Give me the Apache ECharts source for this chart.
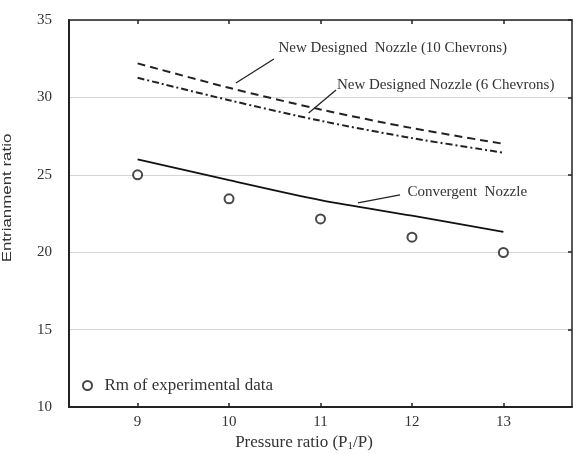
<!DOCTYPE html>
<html>
<head>
<meta charset="utf-8">
<script src="https://cdn.jsdelivr.net/npm/echarts@6/dist/echarts.min.js"></script>
<style>
    html, body { margin: 0; padding: 0; background: #fff; }
    #chart { width: 581px; height: 454px; }
</style>
</head>
<body>
<div id="chart"></div>
<script>
// pressure ratio P1/P
const pressureRatio = [9, 10, 11, 12, 13];
const xTicks = [9, 10, 11, 12, 13];

const chevron10 = [32.2, 30.62, 29.22, 28.02, 27.0];
const chevron6 = [31.27, 29.82, 28.49, 27.37, 26.43];
const convergent = [26.0, 24.66, 23.37, 22.36, 21.32];
const experimental = [25.0, 23.45, 22.15, 20.97, 19.98];

// annotation text anchor and leader line, in data units
const annotations = [
    { text: "New Designed  Nozzle (10 Chevrons)", at: [10.54, 33.19], from: [10.49, 32.48], to: [10.075, 30.93] },
    { text: "New Designed Nozzle (6 Chevrons)", at: [11.18, 30.8], from: [11.17, 30.48], to: [10.87, 28.99] },
    { text: "Convergent  Nozzle", at: [11.95, 23.89], from: [11.87, 23.7], to: [11.41, 23.18] }
];

const serif = "'Liberation Serif', 'Times New Roman', serif";
const textColor = "#333";

const pairs = values => pressureRatio.map((x, i) => [x, values[i]]);

const chart = echarts.init(document.getElementById("chart"));

const sideAxis = {
    type: "value",
    axisLine: { show: true, lineStyle: { color: "#222", width: 1.5 } },
    axisLabel: { show: false },
    splitLine: { show: false }
};

chart.setOption({
    animation: false,
    grid: { left: 69, top: 20, right: 9, bottom: 47, containLabel: false },
    xAxis: [{
        type: "value",
        position: "bottom",
        min: 8.25,
        max: 13.75,
        axisLine: { show: true, onZero: false, lineStyle: { color: "#222", width: 2 } },
        axisTick: { show: true, inside: true, length: 4, customValues: xTicks, lineStyle: { color: "#222", width: 1.5 } },
        axisLabel: { customValues: xTicks, margin: 8, fontFamily: serif, fontSize: 15, color: textColor },
        splitLine: { show: false }
    }, {
        ...sideAxis,
        position: "top",
        min: 8.25,
        max: 13.75,
        axisTick: { show: true, inside: true, length: 4, customValues: xTicks, lineStyle: { color: "#222", width: 1.5 } }
    }],
    yAxis: [{
        type: "value",
        position: "left",
        min: 10,
        max: 35,
        interval: 5,
        axisLine: { show: true, onZero: false, lineStyle: { color: "#222", width: 2 } },
        axisTick: { show: false },
        axisLabel: { margin: 17, fontFamily: serif, fontSize: 15, color: textColor },
        splitLine: { show: true, lineStyle: { color: "#d4d4d4", width: 1 } }
    }, {
        ...sideAxis,
        position: "right",
        min: 10,
        max: 35,
        interval: 5,
        axisTick: { show: true, inside: true, length: 4, lineStyle: { color: "#222", width: 1.5 } }
    }],
    legend: {
        data: ["Rm of experimental data"],
        left: 77,
        top: 372,
        itemWidth: 24,
        itemHeight: 9,
        textStyle: { fontFamily: serif, fontSize: 17, color: textColor }
    },
    series: [{
        name: "New Designed Nozzle (10 Chevrons)",
        type: "line",
        data: pairs(chevron10),
        smooth: 0.3,
        symbol: "none",
        lineStyle: { color: "#222", width: 2, type: [8, 5] }
    }, {
        name: "New Designed Nozzle (6 Chevrons)",
        type: "line",
        data: pairs(chevron6),
        smooth: 0.3,
        symbol: "none",
        lineStyle: { color: "#222", width: 2, type: [7, 3, 2, 3] }
    }, {
        name: "Convergent Nozzle",
        type: "line",
        data: pairs(convergent),
        smooth: 0.3,
        symbol: "none",
        lineStyle: { color: "#111", width: 1.8 }
    }, {
        name: "Rm of experimental data",
        type: "scatter",
        data: pairs(experimental),
        symbol: "emptyCircle",
        symbolSize: 9,
        itemStyle: { color: "#1a1a1a", borderColor: "#1a1a1a", borderWidth: 2.2 }
    }]
});

// annotations, placed through the chart's own coordinate conversion
const graphics = [];
annotations.forEach(a => {
    const p = chart.convertToPixel({ gridIndex: 0 }, a.at);
    const p1 = chart.convertToPixel({ gridIndex: 0 }, a.from);
    const p2 = chart.convertToPixel({ gridIndex: 0 }, a.to);
    graphics.push({
        type: "text",
        x: p[0],
        y: p[1],
        style: { text: a.text, fontFamily: serif, fontSize: 15, fill: textColor, align: "left", verticalAlign: "middle" }
    });
    graphics.push({
        type: "line",
        shape: { x1: p1[0], y1: p1[1], x2: p2[0], y2: p2[1] },
        style: { stroke: "#222", lineWidth: 1.3 }
    });
});

graphics.push({
    type: "text",
    x: 7,
    y: 198,
    rotation: Math.PI / 2,
    scaleX: 1.3,
    style: { text: "Entrianment ratio", fontFamily: "'Liberation Sans', Arial, sans-serif", fontSize: 13, fill: textColor, align: "center", verticalAlign: "middle" }
});

graphics.push({
    type: "text",
    x: 304,
    y: 443,
    style: {
        text: "Pressure ratio (P{sub|1}/P)",
        fontFamily: serif,
        fontSize: 17,
        fill: textColor,
        align: "center",
        verticalAlign: "middle",
        rich: {
            sub: { fontFamily: serif, fontSize: 11, fill: textColor, verticalAlign: "bottom", padding: [6, 0, 0, 0] }
        }
    }
});

chart.setOption({ graphic: graphics });
</script>
</body>
</html>
